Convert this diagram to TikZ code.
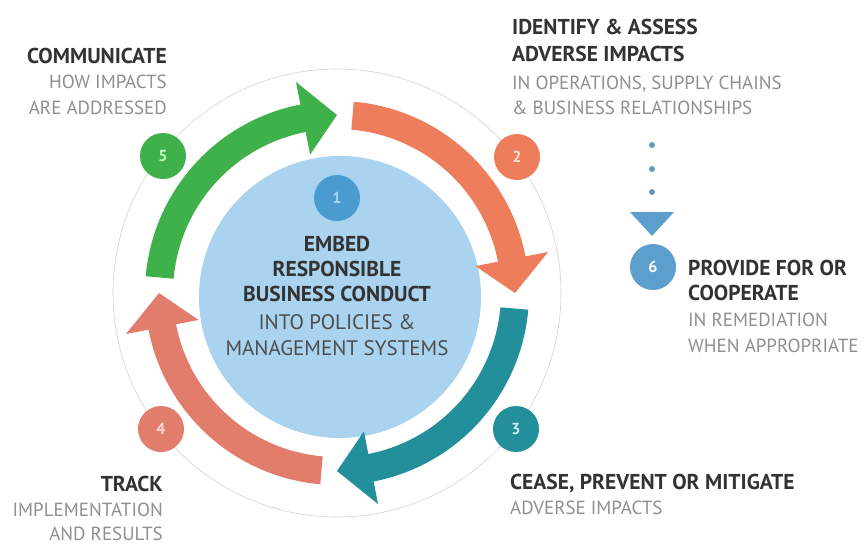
\documentclass[tikz,border=0pt]{standalone}
\usepackage{fontspec}
\setmainfont{PT Sans}
\definecolor{cgreen}{HTML}{3FB14A}
\definecolor{corange}{HTML}{EE7D5C}
\definecolor{cteal}{HTML}{238F9B}
\definecolor{csalmon}{HTML}{E27C6B}
\definecolor{cblue}{HTML}{A9D3EE}
\definecolor{cbadgeone}{HTML}{4A9BCF}
\definecolor{csix}{HTML}{5C9FCC}
\definecolor{cdark}{HTML}{333333}
\definecolor{cmid}{HTML}{4D4D4D}
\definecolor{clight}{HTML}{8F8F8F}
\tikzset{
  head/.style={font=\fontsize{21.5}{24}\selectfont\bfseries, text=cdark, inner sep=0pt},
  body/.style={font=\fontsize{19}{22}\selectfont, text=clight, inner sep=0pt},
  chead/.style={font=\fontsize{21.5}{24}\selectfont\bfseries, text=cdark, inner sep=0pt},
  cbody/.style={font=\fontsize{21}{24}\selectfont, text=cmid, inner sep=0pt},
  badge/.style={circle, minimum size=46pt, inner sep=0pt, font=\fontsize{16}{17}\selectfont\bfseries},
}
\begin{document}
\begin{tikzpicture}[x=1pt,y=-1pt]
\useasboundingbox (0,0) rectangle (861,544);
\fill[white] (0,0) rectangle (861,544);
% light blue centre
\fill[cblue] (340,297) circle[radius=141pt];
% thin guide circle
\draw[gray!35, line width=0.6pt] (337,293) circle[radius=224pt];
% arrows
\begin{scope}[shift={(337,293)}]
\foreach \t/\c [count=\i] in {90/cgreen, 0/corange, -90/cteal, -180/csalmon}{
  \pgfmathsetmacro{\ta}{\t+85}
  \pgfmathsetmacro{\tb}{\t+11}
  \fill[\c] (\ta:192pt) arc[start angle=\ta, end angle=\tb, radius=192pt]
     -- (\tb:215pt) -- (\t:178pt) -- (\tb:141pt) -- (\tb:164pt)
     arc[start angle=\tb, end angle=\ta, radius=164pt] -- cycle;
}
\end{scope}
% badges
\node[badge, fill=cbadgeone, text=cblue] (b1) at (337,198) {1};
\node[badge, fill=cgreen, text=green!25!white] (b5) at (163,156) {5};
\node[badge, fill=corange, text=orange!20!white] (b2) at (517,157) {2};
\node[badge, fill=cteal, text=cyan!20!white] (b3) at (516,429) {3};
\node[badge, fill=csalmon, text=red!15!white] (b4) at (161,429) {4};
\node[badge, fill=csix, text=white] (b6) at (653,267) {6};
% dots and triangle
\fill[csix!80!gray] (652,145) circle[radius=3pt];
\fill[csix!80!gray] (652,169) circle[radius=3pt];
\fill[csix!80!gray] (652,192) circle[radius=3pt];
\fill[csix] (630,212) -- (674,212) -- (652,236) -- cycle;
% centre text
\node[chead, anchor=base] (c1) at (337,251) {EMBED};
\node[chead, anchor=base] (c2) at (337,276) {RESPONSIBLE};
\node[chead, anchor=base] (c3) at (337,301) {BUSINESS CONDUCT};
\node[cbody, anchor=base] (c4) at (337,329) {INTO POLICIES \&};
\node[cbody, anchor=base] (c5) at (337,355) {MANAGEMENT SYSTEMS};
% communicate
\node[head, anchor=base east] (t5a) at (167,63) {COMMUNICATE};
\node[body, anchor=base east] (t5b) at (167,88) {HOW IMPACTS};
\node[body, anchor=base east] (t5c) at (167,114) {ARE ADDRESSED};
% identify
\node[head, anchor=base west] (t2a) at (512,34) {IDENTIFY \& ASSESS};
\node[head, anchor=base west] (t2b) at (512,61) {ADVERSE IMPACTS};
\node[body, anchor=base west] (t2c) at (512,89) {IN OPERATIONS, SUPPLY CHAINS};
\node[body, anchor=base west] (t2d) at (512,114) {\& BUSINESS RELATIONSHIPS};
% provide
\node[head, anchor=base west] (t6a) at (688,275) {PROVIDE FOR OR};
\node[head, anchor=base west] (t6b) at (688,300) {COOPERATE};
\node[body, anchor=base west] (t6c) at (688,326) {IN REMEDIATION};
\node[body, anchor=base west] (t6d) at (688,352) {WHEN APPROPRIATE};
% cease
\node[head, anchor=base west] (t3a) at (510,489) {CEASE, PREVENT OR MITIGATE};
\node[body, anchor=base west] (t3b) at (510,514) {ADVERSE IMPACTS};
% track
\node[head, anchor=base east] (t4a) at (163,491) {TRACK};
\node[body, anchor=base east] (t4b) at (163,516) {IMPLEMENTATION};
\node[body, anchor=base east] (t4c) at (163,540) {AND RESULTS};
\end{tikzpicture}
\end{document}
